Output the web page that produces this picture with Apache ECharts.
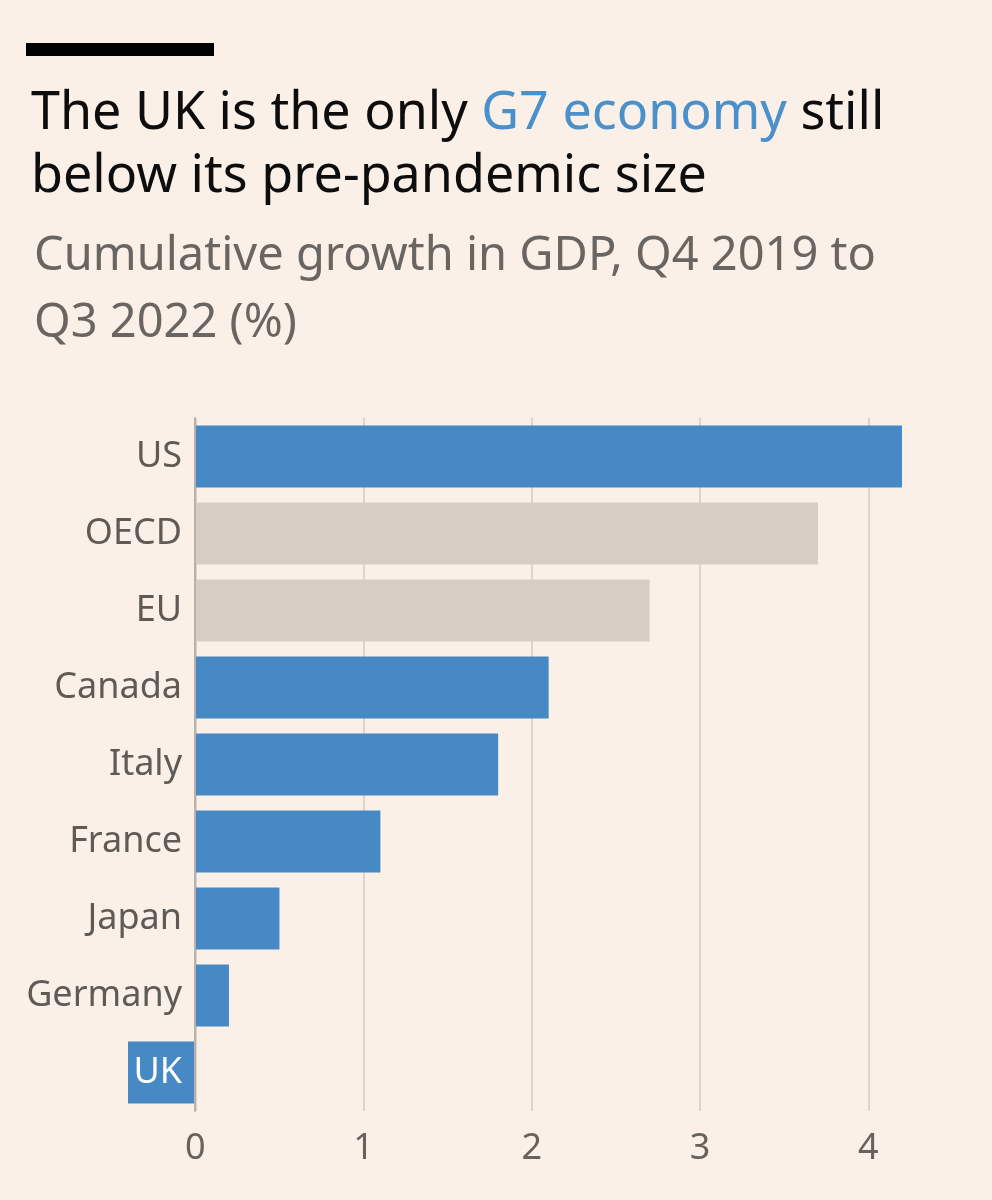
<!DOCTYPE html>
<html>
<head>
<meta charset="utf-8">
<title>G7 GDP growth</title>
<script src="https://cdn.jsdelivr.net/npm/echarts@6/dist/echarts.min.js"></script>
<style>
  html, body { margin: 0; padding: 0; background: #fbf0e7; }
  #chart { width: 992px; height: 1200px; }
</style>
</head>
<body>
<div id="chart"></div>
<script>
// Cumulative growth in GDP, Q4 2019 to Q3 2022 (%)
var countries = ['US', 'OECD', 'EU', 'Canada', 'Italy', 'France', 'Japan', 'Germany', 'UK']
var growth = [4.2, 3.7, 2.7, 2.1, 1.8, 1.1, 0.5, 0.2, -0.4]
var groups = ['country', 'bloc', 'bloc', 'country', 'country', 'country', 'country', 'country', 'country']
var tickValues = [0, 1, 2, 3, 4]

var font = 'Noto Sans'
var blue = '#4689c4'
var grey = '#d7cdc5'

var chart = echarts.init(document.getElementById('chart'))

chart.setOption({
  backgroundColor: '#fbf0e7',
  animation: false,
  textStyle: { fontFamily: font },
  graphic: [
    // black rule above title
    { type: 'rect', left: 26, top: 43, shape: { width: 188, height: 13 }, style: { fill: '#000' } }
  ],
  title: [
    {
      text: 'The UK is the only {b|G7 economy} still\nbelow its pre-pandemic size',
      left: 26,
      top: 78,
      textStyle: {
        fontFamily: font,
        fontSize: 52,
        fontWeight: 'normal',
        color: '#0d0d0d',
        lineHeight: 63,
        rich: {
          b: { fontFamily: font, fontSize: 52, color: '#4a90cb', lineHeight: 63 }
        }
      }
    },
    {
      text: 'Cumulative growth in GDP, Q4 2019 to\nQ3 2022 (%)',
      left: 29,
      top: 218,
      textStyle: {
        fontFamily: font,
        fontSize: 47,
        fontWeight: 'normal',
        color: '#6b6561',
        lineHeight: 67
      }
    }
  ],
  grid: {
    left: 128,
    right: 90,
    top: 418,
    height: 693,
    containLabel: false,
    outerBoundsMode: 'none'
  },
  xAxis: {
    type: 'value',
    min: -0.4,
    max: 4.2,
    axisLine: { show: false },
    axisTick: { show: false, customValues: tickValues },
    axisLabel: {
      customValues: tickValues,
      fontFamily: font,
      fontSize: 36,
      color: '#67625e',
      margin: 20
    },
    splitLine: {
      show: true,
      lineStyle: { color: '#ddd5cd', width: 2 }
    }
  },
  yAxis: {
    type: 'category',
    data: countries,
    inverse: true,
    offset: -67,
    z: 5, // keep the white UK label above its bar
    axisLine: { show: true, onZero: false, lineStyle: { color: '#b9b2ac', width: 2 } },
    axisTick: { show: false },
    axisLabel: {
      fontFamily: font,
      fontSize: 36,
      color: '#5f5a56',
      margin: 13,
      formatter: function (v) {
        return v === 'UK' ? '{uk|UK}' : v
      },
      rich: {
        uk: { color: '#ffffff', fontFamily: font, fontSize: 36 }
      }
    }
  },
  series: [
    {
      type: 'bar',
      barWidth: 62,
      data: growth.map(function (v, i) {
        return { value: v, itemStyle: { color: groups[i] === 'bloc' ? grey : blue } }
      })
    }
  ]
})
</script>
</body>
</html>
